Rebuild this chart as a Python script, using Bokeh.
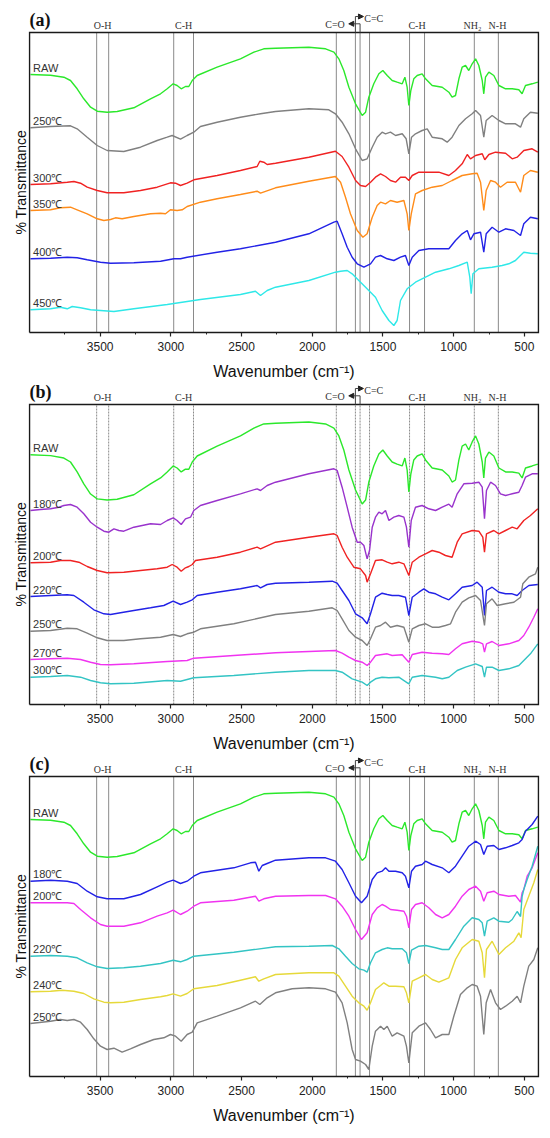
import numpy as np
from bokeh.plotting import figure
from bokeh.layouts import column
from bokeh.models import Arrow, NormalHead, FixedTicker, Range1d
from bokeh.core.properties import value
from bokeh.embed import file_html
from bokeh.resources import INLINE

SANS = "Liberation Sans"
SERIF = "Liberation Serif"

# ---------------- axis / band data ----------------
major_ticks = [3500, 3000, 2500, 2000, 1500, 1000, 500]
minor_ticks = [3750, 3250, 2750, 2250, 1750, 1250, 750]
band_x = [3525, 3440, 2980, 2840, 1830, 1695, 1662, 1595, 1312, 1206, 854, 684]
band_labels = ["O-H", "C-H", "C-H", "NH\u2082", "N-H"]
band_label_x = [3483, 2910, 1259, 867, 690]
co_label, cc_label = "C=O", "C=C"

# ---------------- RAW spectrum (same sample in all panels) ----------------
raw_w = [3993,3851,3757,3710,3663,3616,3568,3521,3451,3380,3262,3144,3073,3026,2984,2956,2927,2897,2873,2849,
         2814,2673,2508,2413,2343,2260,2024,1906,1847,1812,1777,1741,1694,1647,1623,1600,1565,1529,1501,1470,
         1435,1400,1364,1345,1329,1317,1303,1282,1258,1223,1199,1152,1081,1034,1011,987,963,940,916,893,
         869,845,822,798,787,775,751,716,680,633,586,539,516,492,445,405]
raw_v = [258,257.3,255.3,252,243.7,233.7,225.3,221.3,220.3,221,224.7,233.7,238.7,243.7,248.7,247,243.7,246,246,252,
         257,265.3,273.7,280.3,283.7,284.3,285.3,283.7,280.3,273.7,262,245.3,228.7,217,220.3,235.3,248.7,258.7,262,257,
         252,250.3,248.7,255.3,245.3,227,242,253.7,257,258.7,253.7,247,245.3,240.3,235.3,237,253.7,265.3,267,262,
         268.7,273.7,267,252,238.7,255.3,260.3,257,247,243.7,243.7,242.7,238.7,247,248.7,250.3]
# stacking offset / scale of RAW in each panel
raw_offset = {"a": 258.0, "b": 249.7, "c": 257.0}
raw_scale = {"a": 1.0, "b": 1.2, "c": 1.0}

# ---------------- panel (a) ----------------
a250_w = [3993,3851,3710,3663,3592,3521,3451,3333,3215,3097,3026,2991,2932,2885,2838,2791,2673,2508,2366,2260,
          2024,1883,1836,1789,1741,1694,1647,1612,1576,1541,1506,1482,1447,1411,1364,1336,1317,1298,1270,1223,
          1187,1152,1081,1046,1011,963,916,869,845,810,787,770,728,680,633,563,527,504,457,405]
a250_v = [204.7,206,206.7,203.7,195.3,187,182,181,185.3,192,195.3,197,193.3,197,200.3,206,210.3,215.3,218.7,221,
          223.7,222.7,218.7,210.3,198.7,183.7,172,173.7,185.3,195.3,200.3,198.7,200.3,197,198.7,193.7,178.7,195.3,198.7,202,
          203.7,195.3,193.7,190.3,195.3,207,213.7,218.7,222,217,195.3,212,217,212,208.7,208.7,205.3,213.7,220.3,219.3]
a300_w = [3993,3851,3733,3686,3639,3592,3521,3451,3333,3215,3097,3003,2967,2932,2885,2838,2673,2508,2390,2371,
          2343,2319,2260,2024,1836,1789,1741,1694,1659,1623,1588,1553,1517,1482,1447,1411,1376,1341,1317,1293,
          1246,1176,1105,1034,987,940,904,881,845,798,780,751,704,633,586,551,504,445,405]
a300_v = [148,148.7,150.3,151,149.3,145.3,142,139.7,139.7,142,145.3,149.7,149.3,147,149.3,152.7,157,162,166,171.3,
          170.3,168,169.3,175.3,181.3,176,165.3,152,147,146,150.3,155.3,158.7,156,152,150.3,155.3,155.3,152,157,
          160.3,160.3,160.3,157,162,168.7,178,173.7,177,178.7,172.7,178,180.3,179.3,173.7,175.3,182,183.7,180.3]
a350_w = [3993,3851,3781,3710,3663,3592,3521,3474,3427,3392,3345,3262,3144,3073,3038,3003,2956,2920,2885,2791,
          2673,2508,2390,2366,2260,2024,1836,1800,1765,1730,1682,1642,1612,1576,1541,1517,1482,1447,1400,1352,
          1329,1317,1300,1270,1223,1152,1081,1011,940,869,834,810,787,770,739,704,669,622,563,527,504,457,405]
a350_v = [122,122.7,124.7,125.3,122.7,118.7,113.7,112,113,114.7,113.7,116,118.7,119.3,118.7,122.7,122,122.7,126,130.3,
          133.7,138,141.3,139.3,144.7,151.3,156,150.3,135.3,118.7,102,95.3,98.7,115.3,127,130.3,128.7,132,130.3,132,
          118.7,102,118.7,138.7,142,145.3,147,152,157,158.7,159.3,150.3,122,142,152,150.3,145.3,150.3,150.3,140.3,157,162,160.3]
a400_w = [3993,3851,3733,3663,3592,3498,3427,3262,3073,2979,2932,2885,2673,2508,2260,2024,1847,1824,1789,1753,
          1718,1682,1635,1588,1553,1517,1470,1423,1376,1341,1317,1293,1246,1176,1081,1034,987,940,904,881,
          857,810,787,770,728,680,633,574,527,504,457,405]
a400_v = [73.7,74.3,75.3,74.7,72.7,70.3,69.3,69.7,71.3,73.7,73.7,75.3,80.3,83.7,90.3,98.7,110.3,111.3,98.7,85.3,
          75.3,68.7,65.3,68.7,75.3,77,73.7,72,75.3,77,67,75.3,82,83.7,83.7,83.7,92,98.7,102,92.7,
          98.7,100.3,80.3,98.7,105.3,100.3,103.7,102,97,108.7,115.3,113.7]
a450_w = [3993,3851,3781,3733,3698,3639,3568,3498,3403,3262,3026,2791,2508,2402,2366,2319,2260,2024,1836,1800,
          1753,1718,1671,1623,1553,1506,1458,1423,1400,1376,1329,1270,1199,1128,1034,963,904,886,876,864,
          822,728,657,610,563,504,457,405]
a450_v = [22.7,23.7,25.3,23.7,26,24.7,22.7,22,21,23.7,28,33,38,41.3,37,42,45.3,52,60.3,61.3,
          62,58.7,52,45.3,35.3,22,12,7,12,32,43.7,50.3,55.3,60.3,63.7,67,70.3,55.3,38.7,58.7,
          63.7,65.3,67,68.7,72,80.3,79.3,78.7]

# ---------------- panel (b) ----------------
b180_w = [3993,3922,3851,3792,3757,3710,3663,3616,3568,3521,3474,3439,3403,3368,3333,3262,3144,3073,3026,2984,
          2956,2927,2897,2861,2838,2791,2673,2508,2390,2366,2319,2260,2024,1847,1824,1789,1753,1718,1682,1659,
          1635,1612,1595,1576,1553,1529,1506,1482,1458,1423,1388,1352,1334,1317,1300,1270,1223,1176,1128,1081,
          1034,1011,975,928,869,822,798,782,768,739,704,669,633,586,539,516,492,445,405]
b180_v = [194,195,195.7,197.3,199,200,197.3,190.7,182.3,177.3,173.3,172.3,175.7,174,173.3,177.3,180.7,180,184,186.7,
          184,180,185.7,187.3,194,199,204,210.7,215.7,214,219,222.3,230.7,235.7,234,217.3,197.3,177.3,162.3,162.3,
          159,145.7,154,177.3,187.3,192.3,190.7,194,184,187.3,189,187.3,177.3,157.3,184,197.3,199,195.7,194,197.3,
          200.3,197.3,210.7,220.7,221.3,222.3,217.3,185.7,214,222.3,219,210.7,209,210.7,212.3,219,227.3,230.7,230.7]
b200_w = [3993,3851,3781,3710,3651,3592,3521,3451,3333,3215,3097,3026,2991,2956,2927,2897,2873,2849,2826,2673,
          2508,2390,2366,2260,2024,1847,1824,1789,1753,1706,1659,1623,1612,1588,1553,1506,1470,1435,1388,1352,
          1317,1293,1246,1199,1152,1105,1058,1011,975,940,869,822,794,782,768,716,680,633,586,551,504,457,405]
b200_v = [141.7,142.3,144,144,142.3,138,134,131.7,132.3,134,135.7,137.3,140,137.3,133.3,136.7,138,140,144,147.3,
          152.3,157.3,155.7,162.3,167.3,170.7,169,157.3,147.3,137.3,135.7,129,122.3,130.7,144,144.7,142.3,140.7,142.3,140.7,
          129,142.3,147.3,150.7,154,152.3,149,147.3,162.3,170.7,174,173.3,167.3,152.3,170.7,174,170.7,174,177.3,175.7,184,189,195.7]
b220_w = [3993,3851,3733,3686,3616,3545,3474,3427,3356,3262,3144,3050,2984,2932,2885,2849,2814,2673,2508,2390,
          2366,2319,2260,2024,1859,1824,1789,1741,1694,1647,1612,1588,1553,1506,1470,1435,1388,1341,1317,1293,
          1246,1211,1176,1128,1081,1034,987,940,869,834,798,782,768,728,680,633,586,551,516,468,405]
b220_v = [108,109,109.7,109,102.3,94.7,90.7,90,91.7,94,96.7,99,103.3,100,102.3,104.7,109,112.3,115.7,119,
          116.7,120,121.3,122.3,123.3,121.3,114,104,90.7,86.7,80.7,90.7,107.3,111.3,110,109,109,107.3,89,107.3,
          112.3,115.7,112.3,110.7,107.3,104.7,110.7,117.3,119,122.3,117.3,89,114,117.3,112.3,110.7,110.7,109,114,119,120]
b250_w = [3993,3851,3733,3663,3592,3521,3451,3333,3215,3073,2984,2932,2885,2838,2791,2555,2260,2024,1859,1824,
          1789,1741,1694,1647,1612,1588,1553,1517,1482,1447,1400,1352,1317,1293,1246,1199,1152,1105,1058,1022,
          987,940,893,845,810,782,768,728,692,633,574,527,511,469,421,405]
b250_v = [73.3,74,76.3,75.7,71.3,66.7,64,64,65.7,67.3,70,68,70.7,72.3,75.7,80.7,90,93.3,96.7,94,
          85.7,74,67.3,64,59,65.7,77.3,79,82.3,77.3,79,77.3,62.3,75.7,79,80.7,77.3,77.3,79,80.7,
          92.3,102.3,106.7,109,104,79,100.7,105.7,99,100.7,102.3,107.3,120.7,127.3,130.7,137.3]
b270_w = [3993,3851,3733,3639,3568,3498,3427,3262,3026,2885,2838,2555,2260,2024,1836,1789,1741,1694,1647,1612,
          1588,1553,1506,1470,1435,1364,1317,1293,1223,1152,1081,1034,987,940,869,822,794,782,768,728,
          680,610,539,504,469,433,405]
b270_v = [45,45.7,46.3,45,42.3,40,39.7,40.7,43,44,46.3,49,51.7,53,54,51.3,47.3,44,42.3,39,
          42.3,49,50,50.7,49,49.7,42.3,50,52.3,51.3,50.7,50,55.7,60.7,63.3,62.3,60.7,52.3,60.7,63,
          59,60.7,64,69,77.3,87.3,95.7]
b300_w = [3993,3851,3733,3639,3568,3498,3427,3262,3026,2932,2838,2555,2260,2024,1836,1789,1718,1647,1612,1588,
          1553,1506,1458,1388,1317,1293,1223,1128,1081,1034,975,916,845,798,782,768,728,680,610,539,504,457,405]
b300_v = [27.3,28,29,27.3,24,21.7,20.7,21.3,24,23.3,26.7,29,32.3,34,34,32.3,25.7,22.3,19,22.3,
          25.7,27.3,26.7,27.3,20.7,27.3,29,27.3,25.7,27.3,34,37.3,40.7,38,27.3,37.3,37.3,34,35.7,39,44,50.7,60.7]

# ---------------- panel (c) ----------------
c180_w = [3993,3851,3733,3663,3592,3521,3451,3333,3215,3097,3026,2984,2932,2885,2838,2791,2555,2437,2402,2378,
          2354,2319,2260,2024,1906,1836,1789,1741,1694,1652,1612,1576,1541,1506,1482,1458,1411,1364,1341,1317,
          1298,1270,1223,1199,1152,1081,1034,987,940,893,845,810,787,763,716,680,633,586,539,516,492,445,405]
c180_v = [195.3,196.3,195.3,193,185.3,179.7,177.7,177.7,182,189.7,194.3,196.3,193,195.3,200.3,203.7,208.7,213.7,214.3,205.3,
          211,213,216.3,218.7,218.7,215.3,207,193.7,180.3,173.7,180.3,197,203.7,205.3,208.7,205.3,205.3,203.7,200.3,188.7,
          205.3,210.3,212,215.3,212,208.7,203.7,210.3,220.3,230.3,235.3,232,222,230.3,231,227,228.7,231,233.7,237,245.3,252,260.3]
c200_w = [3993,3851,3733,3686,3639,3568,3498,3451,3333,3215,3097,3026,2984,2932,2885,2838,2791,2555,2402,2378,
          2343,2260,2024,1906,1836,1789,1741,1694,1652,1612,1576,1541,1506,1482,1447,1400,1352,1334,1317,1298,
          1270,1223,1176,1128,1081,1034,987,940,893,845,810,787,763,716,680,610,563,527,516,504,480,445,405]
c200_v = [173.7,173.7,173.7,173,167,158.7,152,150.3,150.3,153.7,160.3,163.7,166.3,162,165.3,170.3,173.7,176.3,180.3,175.3,
          177.7,180.3,181,181,177.7,170.3,160.3,147,137,143.7,162,168.7,172,170.3,167,166.3,165.3,160.3,148.7,167,
          172,173.7,168.7,162,158.7,162,170.3,180.3,187,190.3,185.3,175.3,183.7,185.3,182,180.3,181,174.3,183.7,187,200.3,208.7,223.7]
c220_w = [3993,3851,3733,3663,3592,3521,3451,3333,3215,3073,2984,2932,2885,2838,2555,2260,2024,1859,1812,1765,
          1718,1671,1635,1612,1588,1553,1506,1470,1435,1364,1334,1317,1298,1246,1199,1128,1081,1034,987,928,
          869,822,798,782,763,716,680,610,586,551,527,516,504,480,445,405]
c220_v = [120.3,121,120.3,118.7,113.7,109.7,108,108.7,110.3,113,116.3,114.7,117,120.3,124.3,129.7,130.3,131,127.7,120.3,
          113,107.7,106.3,104.3,113.7,123.7,127,128.7,127.7,127.7,123.7,113,126.3,130.3,131,128.7,127,127,137,150.3,
          158.7,157,153.7,140.3,155.3,158.7,155.3,154.3,157,165,160,180,187,197,210.3,230.3]
c240_w = [3993,3851,3769,3686,3616,3545,3474,3427,3333,3215,3073,3026,2984,2932,2885,2838,2673,2508,2402,2378,
          2343,2260,2024,1847,1812,1765,1718,1671,1635,1612,1588,1553,1517,1494,1458,1411,1352,1334,1317,1293,
          1246,1199,1152,1105,1034,987,940,869,822,798,782,768,728,680,633,574,539,523,504,469,433,405]
c240_v = [84.7,85.3,86.3,85.3,83,77.7,74.3,73.7,74.3,77,79.7,81,82.7,80.3,83,87.7,91,96.3,99.7,95.3,
          97.7,102,103.7,103.7,100.3,90.3,80.3,73.7,70.3,66.3,73.7,87,91,93.7,90.3,90.3,89.7,83.7,73.7,95.3,
          98.7,102,97,94.3,98.7,117,128.7,137,135.3,123.7,98.7,127,135.3,122,128.7,135.3,143.7,138.7,167,180.3,193.7,207]
c250_w = [3993,3851,3781,3733,3686,3639,3592,3545,3498,3451,3403,3345,3286,3215,3121,3050,3003,2967,2927,2885,
          2849,2814,2673,2508,2402,2371,2319,2260,2142,2024,1906,1836,1789,1753,1718,1694,1659,1623,1600,1576,
          1553,1517,1494,1470,1435,1400,1352,1334,1317,1293,1246,1199,1164,1128,1081,1034,999,952,904,869,
          834,810,787,770,739,704,669,633,586,551,527,504,469,433,405]
c250_v = [53,55.3,57,56,57,54.3,47,37.7,30.3,27,28.3,24.3,27.7,32,37,38.7,42,40.3,35.3,42,
          44.3,53.7,60.3,68.7,75.3,72,78.7,83.7,87.7,88.7,87.7,84.3,73.7,53.7,27,17,15.3,12,7,30.3,
          45.3,50.3,47,50.3,40.3,43.7,40.3,30.3,13.7,43.7,50.3,53.7,47,38.7,42,42,60.3,82,88.7,92,
          90.3,80.3,42,73.7,87,73.7,67,70.3,75.3,80.3,73.7,90.3,110.3,117,128.7]

GREEN, GRAY, RED, ORANGE, BLUE = "#2be82b", "#808080", "#f02222", "#ff8c1a", "#2222e6"
CYAN, PURPLE, MAGENTA, TEAL, YELLOW = "#2ee8e8", "#9933cc", "#f033f0", "#33c4c4", "#e6d93a"


def raw_for(panel):
    o, s = raw_offset[panel], raw_scale[panel]
    return [o + s * (v - raw_v[0]) for v in raw_v]


panels = [
    ("a", 10, "solid", [("RAW", raw_w, raw_for("a"), GREEN), ("250\u2103", a250_w, a250_v, GRAY),
                        ("300\u2103", a300_w, a300_v, RED), ("350\u2103", a350_w, a350_v, ORANGE),
                        ("400\u2103", a400_w, a400_v, BLUE), ("450\u2103", a450_w, a450_v, CYAN)]),
    ("b", 0, "2 1", [("RAW", raw_w, raw_for("b"), GREEN), ("180\u2103", b180_w, b180_v, PURPLE),
                     ("200\u2103", b200_w, b200_v, RED), ("220\u2103", b220_w, b220_v, BLUE),
                     ("250\u2103", b250_w, b250_v, GRAY), ("270\u2103", b270_w, b270_v, MAGENTA),
                     ("300\u2103", b300_w, b300_v, TEAL)]),
    ("c", 0, "solid", [("RAW", raw_w, raw_for("c"), GREEN), ("180\u2103", c180_w, c180_v, BLUE),
                       ("200\u2103", c200_w, c200_v, MAGENTA), ("220\u2103", c220_w, c220_v, TEAL),
                       ("240\u2103", c240_w, c240_v, YELLOW), ("250\u2103", c250_w, c250_v, GRAY)]),
]

# plotted box (data units) and the extra headroom for the band labels
X_LEFT, X_RIGHT = 4000, 400
Y_LO, Y_HI = 0, 300
Y_TOP = 322
PAD_X = 7.07  # one pixel of wavenumber
LINE_GRAY = "#8a8a8a"
TXT = "#333333"
NBSP = "\u00a0"


def make_panel(tag, top, dash, curves):
    p = figure(frame_width=511, frame_height=324,
               x_range=Range1d(X_LEFT + PAD_X, X_RIGHT - PAD_X), y_range=Range1d(-2, Y_TOP),
               output_backend="svg", toolbar_location=None, min_border_left=28, min_border_right=3,
               min_border_top=top, min_border_bottom=48)
    p.outline_line_color = None
    p.grid.visible = False

    # y axis: title only
    ya = p.yaxis[0]
    ya.ticker = FixedTicker(ticks=[])
    ya.axis_line_color = None
    ya.major_tick_line_color = None
    ya.minor_tick_line_color = None
    ya.major_label_text_font_size = "0px"
    ya.major_label_standoff = 0
    ya.axis_label = "% Transmittance" + NBSP * 5
    ya.axis_label_text_font = SANS
    ya.axis_label_text_font_size = "14px"
    ya.axis_label_text_font_style = "normal"
    ya.axis_label_text_color = "#111111"
    ya.axis_label_standoff = 0

    ax = p.xaxis[0]
    ax.ticker = FixedTicker(ticks=major_ticks, minor_ticks=minor_ticks)
    ax.axis_label = "Wavenumber (cm\u207b\u00b9)"
    ax.axis_label_text_font = SANS
    ax.axis_label_text_font_size = "16px"
    ax.axis_label_text_font_style = "normal"
    ax.axis_label_text_color = "#111111"
    ax.axis_label_standoff = 9
    ax.major_label_text_font = SANS
    ax.major_label_text_font_size = "12px"
    ax.major_label_text_color = "#222222"
    ax.major_label_standoff = 5
    ax.axis_line_color = None
    ax.major_tick_in, ax.major_tick_out = 2, 2
    ax.minor_tick_in, ax.minor_tick_out = 2, 0
    ax.major_tick_line_color = "#222222"
    ax.minor_tick_line_color = "#222222"
    ax.major_tick_line_width = 1.2

    # band marker lines
    p.segment(x0=band_x, y0=[Y_LO] * len(band_x), x1=band_x, y1=[Y_HI] * len(band_x),
              line_color=LINE_GRAY, line_width=1, line_dash=dash)

    # spectra
    lab_x, lab_y, lab_t = [], [], []
    for name, w, v, col in curves:
        p.line(w, v, line_color=col, line_width=1.4)
        lab_x.append(3975)
        lab_y.append(v[0] + 7)
        lab_t.append(name)
    p.text(x=lab_x, y=lab_y, text=lab_t, text_font=value(SANS), text_font_size="11px",
           text_color=TXT, text_baseline="middle", text_align="left")

    # plot box
    p.line(x=[X_LEFT, X_RIGHT, X_RIGHT, X_LEFT, X_LEFT], y=[Y_LO, Y_LO, Y_HI, Y_HI, Y_LO],
           line_color="#1a1a1a", line_width=1.5, line_join="miter")

    # band labels above the box
    p.text(x=band_label_x, y=[307.5] * len(band_label_x), text=band_labels, text_font=value(SERIF),
           text_font_size="10px", text_color=TXT, text_align="center", text_baseline="middle")
    p.text(x=[1770], y=[308.5], text=[co_label], text_font=value(SERIF), text_font_size="10px",
           text_color=TXT, text_align="right", text_baseline="middle")
    p.text(x=[1632], y=[314], text=[cc_label], text_font=value(SERIF), text_font_size="10px",
           text_color=TXT, text_align="left", text_baseline="middle")
    # bracket arrows
    p.segment(x0=[1695, 1662], y0=[Y_HI, Y_HI], x1=[1695, 1662], y1=[316, 308.7],
              line_color="#444444", line_width=1)
    p.add_layout(Arrow(x_start=1695, y_start=316, x_end=1638, y_end=316,
                       end=NormalHead(size=5, fill_color="#222222", line_color="#222222"),
                       line_color="#444444", line_width=1))
    p.add_layout(Arrow(x_start=1662, y_start=308.7, x_end=1742, y_end=308.7,
                       end=NormalHead(size=5, fill_color="#222222", line_color="#222222"),
                       line_color="#444444", line_width=1))

    # panel tag
    p.text(x=[X_LEFT], y=[313], text=["(%s)" % tag], text_font=value(SERIF), text_font_style="bold",
           text_font_size="18px", text_color="#111111", text_align="left", text_baseline="middle")
    return p


figs = [make_panel(tag, top, dash, curves) for tag, top, dash, curves in panels]
layout = column(*figs)
open("out.html", "w").write(file_html(layout, INLINE, title="FTIR spectra"))
